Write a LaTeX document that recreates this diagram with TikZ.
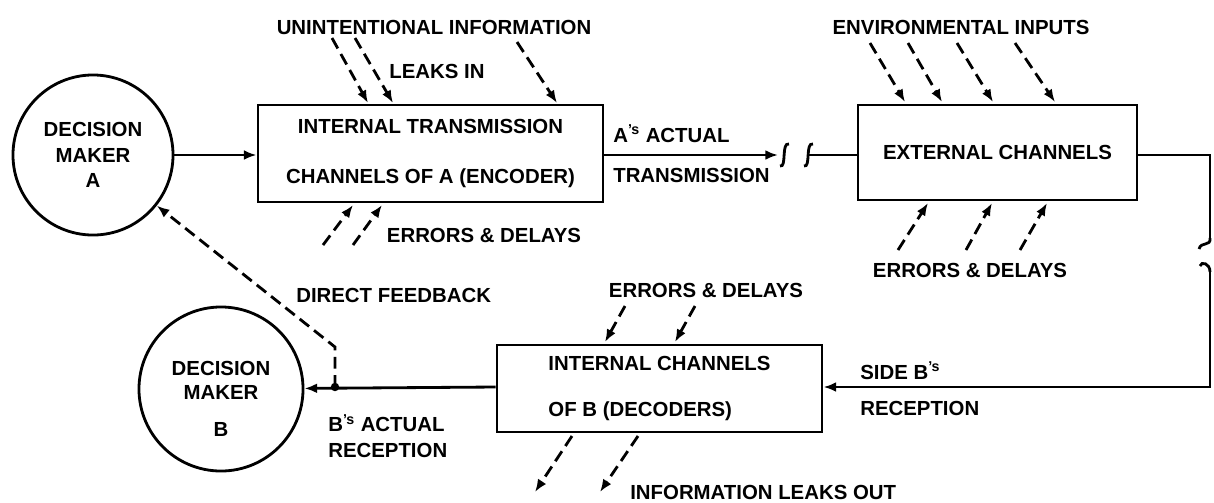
\documentclass[tikz,border=0pt]{standalone}
\usepackage{fontspec}
\setmainfont{Liberation Sans}
\usetikzlibrary{arrows.meta}

\tikzset{
  box/.style={draw,line width=2pt,rectangle,align=center},
  decider/.style={draw,line width=2pt,circle,align=center,inner sep=0pt},
  conn/.style={line width=2pt},
  tip/.style={-{Latex[length=9pt,width=7pt]}},
  leak/.style={line width=2pt,dash pattern=on 8.5pt off 4.5pt,-{Latex[length=9pt,width=7pt]}},
  lbl/.style={inner sep=0pt,align=left},
}

\begin{document}
\begin{tikzpicture}[x=0.025cm,y=-0.025cm,font=\fontsize{14.5}{18}\selectfont\bfseries]
\useasboundingbox (0,0) rectangle (1214,502);

% decision makers
\node[decider,minimum size=4cm] (makerA) at (93,155) {DECISION\\MAKER\\A};
\node[decider,minimum size=4.1cm,
  label={[align=center,yshift=-7pt]center:DECISION\\[-1pt]MAKER\\[8pt]B}] (makerB) at (221,389) {};

% channel boxes
\node[box,minimum width=8.625cm,minimum height=2.425cm] (encA) at (430.5,153.5) {INTERNAL TRANSMISSION\\[17.5pt]CHANNELS OF A (ENCODER)};
\node[box,minimum width=6.975cm,minimum height=2.375cm] (ext) at (997.5,152.5) {EXTERNAL CHANNELS};
\node[box,align=left,minimum width=8.125cm,minimum height=2.175cm] (decB) at (659.5,388.5) {INTERNAL CHANNELS\\[15.4pt]OF B (DECODERS)};

% break points and bends
\coordinate (cutL) at (778,155);
\coordinate (cutR) at (808,155);
\coordinate (bendE) at (1210,155);
\coordinate (cutT) at (1210,238);
\coordinate (cutD) at (1210,272);
\coordinate (bendS) at (1210,387);
\coordinate (tap) at (335,387);
\coordinate (tapUp) at (335,347);

% main flow
\draw[conn,tip] (makerA) -- (encA.west |- makerA);
\draw[conn,tip] (encA.east |- cutL) -- (cutL);
\draw[conn] (780,166) .. controls (787,168) and (781,142) .. (789,144);
\draw[conn] (804,166) .. controls (811,168) and (805,142) .. (813,144);
\draw[conn] (cutR) -- (ext.west |- cutR);
\draw[conn] (ext.east |- bendE) -- (bendE) -- (cutT);
\draw[conn] (cutT) .. controls (1211,247) and (1201,241) .. (1199,249);
\draw[conn] (1200,266) .. controls (1201,261) and (1210,263) .. (cutD);
\draw[conn,tip] (cutD) -- (bendS) -- (decB.east |- bendS);
\draw[conn,tip] (decB.west |- tap) -- (makerB);
\fill (tap) circle (3pt);
\draw[leak] (tap) -- (tapUp) -- (makerA);

% dashed inputs and outputs
\foreach \xa/\ya/\xb/\yb in {332/38/368/103, 355/38/393/103, 517/42/557/103}
  \draw[leak] (\xa,\ya) -- (\xb,\yb);
\foreach \xa/\ya/\xb/\yb in {323/245/353/205, 353/245/382/205}
  \draw[leak] (\xa,\ya) -- (\xb,\yb);
\foreach \xa/\ya/\xb/\yb in {870/43/905/102, 908/43/942/102, 957/43/993/102, 1015/43/1055/102}
  \draw[leak] (\xa,\ya) -- (\xb,\yb);
\foreach \xa/\ya/\xb/\yb in {898/250/928/203, 966/250/992/203, 1020/250/1047/203}
  \draw[leak] (\xa,\ya) -- (\xb,\yb);
\foreach \xa/\ya/\xb/\yb in {625/306/605/342, 695/306/675/342}
  \draw[leak] (\xa,\ya) -- (\xb,\yb);
\foreach \xa/\ya/\xb/\yb in {572/436/535/492, 638/436/600/492}
  \draw[leak] (\xa,\ya) -- (\xb,\yb);

% labels
\node[lbl] (unint) at (434,27) {UNINTENTIONAL INFORMATION};
\node[lbl] (leaksin) at (437,71) {LEAKS IN};
\node[lbl] (errA) at (484,235) {ERRORS \& DELAYS};
\node[lbl,anchor=west] (transA) at (613,154) {A\textsuperscript{'s} ACTUAL\\[11pt]TRANSMISSION};
\node[lbl] (envin) at (961,27) {ENVIRONMENTAL INPUTS};
\node[lbl] (errExt) at (970,270) {ERRORS \& DELAYS};
\node[lbl,anchor=west] (feedback) at (296,295) {DIRECT FEEDBACK};
\node[lbl] (errB) at (706,290) {ERRORS \& DELAYS};
\node[lbl,anchor=west] (sideB) at (860,389) {SIDE B\textsuperscript{'s}\\[8pt]RECEPTION};
\node[lbl,anchor=west] (recB) at (328,436) {B\textsuperscript{'s} ACTUAL\\RECEPTION};
\node[lbl,anchor=west] (leakout) at (630,492) {INFORMATION LEAKS OUT};
\end{tikzpicture}
\end{document}
